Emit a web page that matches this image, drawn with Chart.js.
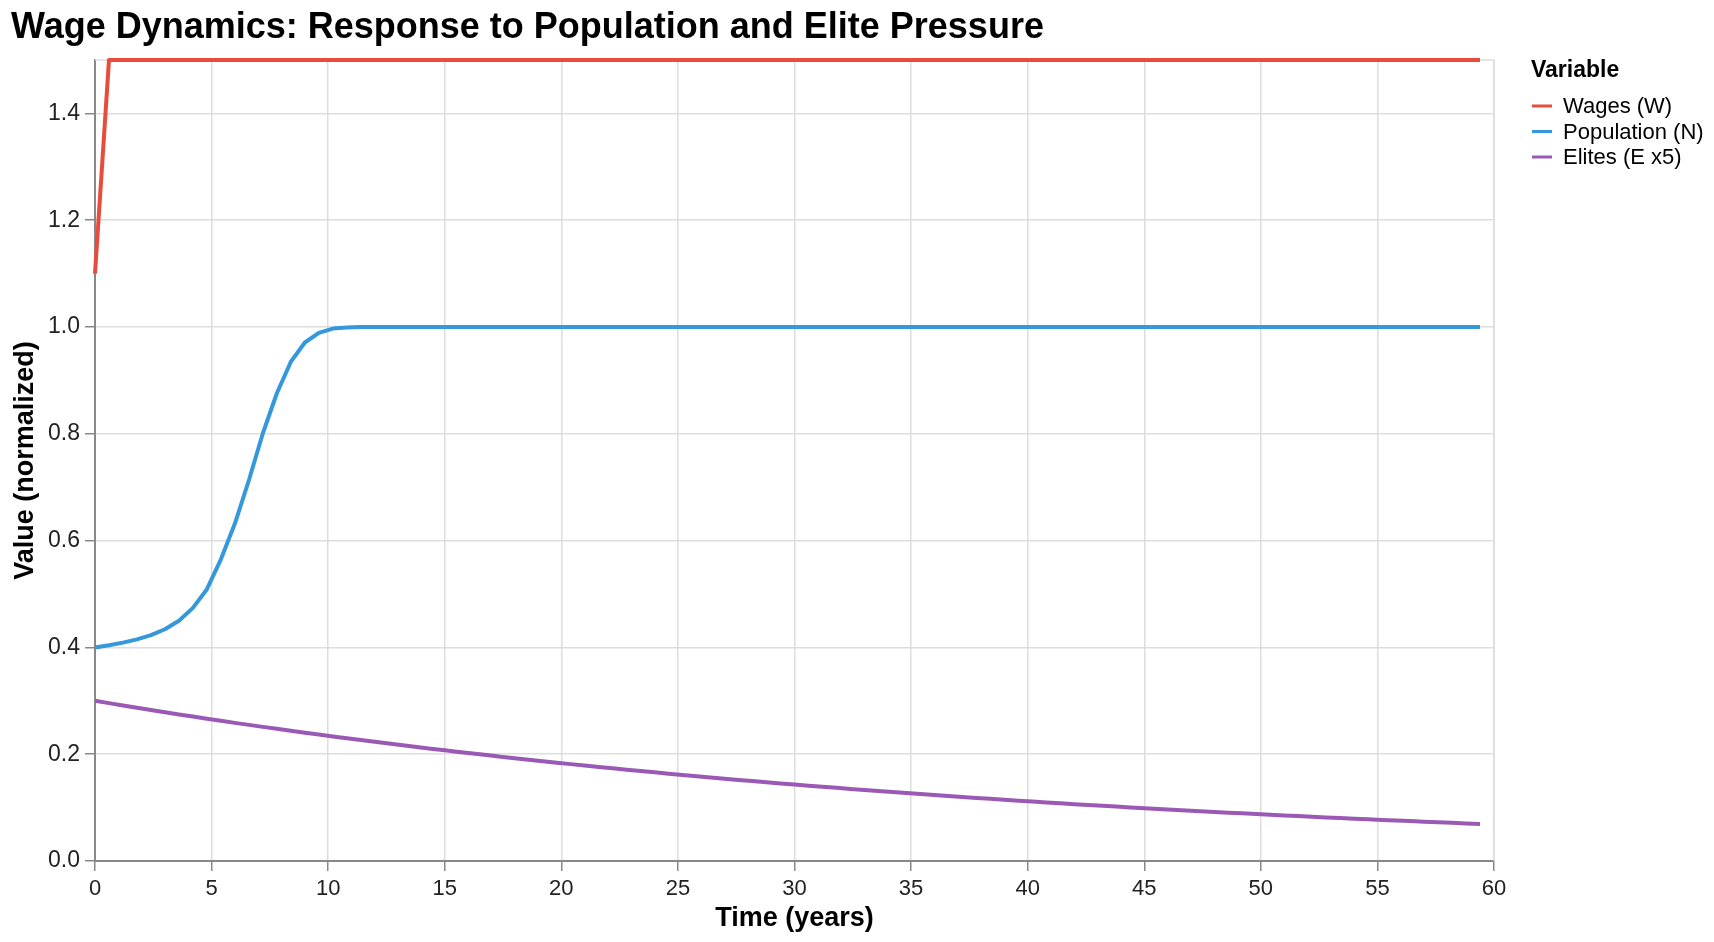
<!DOCTYPE html>
<html>
<head>
<meta charset="utf-8">
<title>Wage Dynamics</title>
<script src="https://cdn.jsdelivr.net/npm/chart.js@4.4.1/dist/chart.umd.min.js"></script>
<style>
  html, body { margin: 0; padding: 0; background: #fff; }
  #wrap { width: 1714px; height: 942px; position: relative; }
</style>
</head>
<body>
<div id="wrap"><canvas id="wageChart"></canvas></div>
<script>
// time steps (years)
const times = [0, 0.6, 1.2, 1.8, 2.4, 3, 3.6, 4.2, 4.8, 5.4, 6, 6.6, 7.2, 7.8, 8.4, 9, 9.6, 10.2, 10.8, 11.4,
  12, 12.6, 13.2, 13.8, 14.4, 15, 15.6, 16.2, 16.8, 17.4, 18, 18.6, 19.2, 19.8, 20.4, 21, 21.6, 22.2, 22.8, 23.4,
  24, 24.6, 25.2, 25.8, 26.4, 27, 27.6, 28.2, 28.8, 29.4, 30, 30.6, 31.2, 31.8, 32.4, 33, 33.6, 34.2, 34.8, 35.4,
  36, 36.6, 37.2, 37.8, 38.4, 39, 39.6, 40.2, 40.8, 41.4, 42, 42.6, 43.2, 43.8, 44.4, 45, 45.6, 46.2, 46.8, 47.4,
  48, 48.6, 49.2, 49.8, 50.4, 51, 51.6, 52.2, 52.8, 53.4, 54, 54.6, 55.2, 55.8, 56.4, 57, 57.6, 58.2, 58.8, 59.4];

const wages = [1.1, 1.5, 1.5, 1.5, 1.5, 1.5, 1.5, 1.5, 1.5, 1.5, 1.5, 1.5, 1.5, 1.5, 1.5, 1.5, 1.5, 1.5, 1.5, 1.5,
  1.5, 1.5, 1.5, 1.5, 1.5, 1.5, 1.5, 1.5, 1.5, 1.5, 1.5, 1.5, 1.5, 1.5, 1.5, 1.5, 1.5, 1.5, 1.5, 1.5,
  1.5, 1.5, 1.5, 1.5, 1.5, 1.5, 1.5, 1.5, 1.5, 1.5, 1.5, 1.5, 1.5, 1.5, 1.5, 1.5, 1.5, 1.5, 1.5, 1.5,
  1.5, 1.5, 1.5, 1.5, 1.5, 1.5, 1.5, 1.5, 1.5, 1.5, 1.5, 1.5, 1.5, 1.5, 1.5, 1.5, 1.5, 1.5, 1.5, 1.5,
  1.5, 1.5, 1.5, 1.5, 1.5, 1.5, 1.5, 1.5, 1.5, 1.5, 1.5, 1.5, 1.5, 1.5, 1.5, 1.5, 1.5, 1.5, 1.5, 1.5];

const population = [0.400, 0.404, 0.409, 0.415, 0.423, 0.434, 0.450, 0.474, 0.509, 0.565, 0.632, 0.713, 0.801, 0.876, 0.935, 0.971, 0.989, 0.997, 0.999, 1.0,
  1.0, 1.0, 1.0, 1.0, 1.0, 1.0, 1.0, 1.0, 1.0, 1.0, 1.0, 1.0, 1.0, 1.0, 1.0, 1.0, 1.0, 1.0, 1.0, 1.0,
  1.0, 1.0, 1.0, 1.0, 1.0, 1.0, 1.0, 1.0, 1.0, 1.0, 1.0, 1.0, 1.0, 1.0, 1.0, 1.0, 1.0, 1.0, 1.0, 1.0,
  1.0, 1.0, 1.0, 1.0, 1.0, 1.0, 1.0, 1.0, 1.0, 1.0, 1.0, 1.0, 1.0, 1.0, 1.0, 1.0, 1.0, 1.0, 1.0, 1.0,
  1.0, 1.0, 1.0, 1.0, 1.0, 1.0, 1.0, 1.0, 1.0, 1.0, 1.0, 1.0, 1.0, 1.0, 1.0, 1.0, 1.0, 1.0, 1.0, 1.0];

const elites = [0.3000, 0.2956, 0.2913, 0.2870, 0.2828, 0.2786, 0.2745, 0.2705, 0.2665, 0.2626,
  0.2587, 0.2549, 0.2512, 0.2475, 0.2439, 0.2403, 0.2368, 0.2333, 0.2299, 0.2265,
  0.2232, 0.2199, 0.2167, 0.2135, 0.2104, 0.2073, 0.2042, 0.2012, 0.1983, 0.1954,
  0.1925, 0.1897, 0.1869, 0.1841, 0.1814, 0.1788, 0.1761, 0.1736, 0.1710, 0.1685,
  0.1660, 0.1636, 0.1612, 0.1588, 0.1565, 0.1542, 0.1519, 0.1497, 0.1475, 0.1453,
  0.1432, 0.1411, 0.1390, 0.1370, 0.1350, 0.1330, 0.1310, 0.1291, 0.1272, 0.1253,
  0.1235, 0.1217, 0.1199, 0.1181, 0.1164, 0.1147, 0.1130, 0.1113, 0.1097, 0.1081,
  0.1065, 0.1049, 0.1034, 0.1019, 0.1004, 0.0989, 0.0975, 0.0960, 0.0946, 0.0932,
  0.0919, 0.0905, 0.0892, 0.0879, 0.0866, 0.0853, 0.0841, 0.0828, 0.0816, 0.0804,
  0.0792, 0.0781, 0.0769, 0.0758, 0.0747, 0.0736, 0.0725, 0.0714, 0.0704, 0.0693];

const seriesNames = ["Wages (W)", "Population (N)", "Elites (E x5)"];
const seriesColors = ["#e74c3c", "#3498db", "#9b59b6"];
const xTicks = [0, 5, 10, 15, 20, 25, 30, 35, 40, 45, 50, 55, 60];
const yTicks = [0, 0.2, 0.4, 0.6, 0.8, 1.0, 1.2, 1.4];

const FONT = "'Liberation Sans', Arial, Helvetica, sans-serif";

function toPoints(vals) {
    return vals.map((v, i) => ({ x: times[i], y: v }));
}

// title, axis titles, frame and legend drawn by hand
const decorPlugin = {
    id: "decor",
    beforeDatasetsDraw(chart) {
        const { ctx, chartArea } = chart;
        ctx.save();
        ctx.strokeStyle = "#dddddd";
        ctx.lineWidth = 1.5;
        ctx.beginPath();
        ctx.moveTo(chartArea.left, chartArea.top);
        ctx.lineTo(chartArea.right, chartArea.top);
        ctx.lineTo(chartArea.right, chartArea.bottom);
        ctx.stroke();
        ctx.restore();
    },
    afterDraw(chart) {
        const { ctx, chartArea } = chart;
        ctx.save();
        ctx.fillStyle = "#000";
        ctx.textBaseline = "alphabetic";

        // title
        ctx.font = "bold 36px " + FONT;
        ctx.textAlign = "left";
        ctx.fillText("Wage Dynamics: Response to Population and Elite Pressure", 11, 38);

        // x axis title
        ctx.font = "bold 27px " + FONT;
        ctx.textAlign = "center";
        ctx.fillText("Time (years)", (chartArea.left + chartArea.right) / 2, 926);

        // y axis title
        ctx.save();
        ctx.translate(33, (chartArea.top + chartArea.bottom) / 2);
        ctx.rotate(-Math.PI / 2);
        ctx.fillText("Value (normalized)", 0, 0);
        ctx.restore();

        // legend
        ctx.textAlign = "left";
        ctx.font = "bold 23px " + FONT;
        ctx.fillText("Variable", 1531, 77);
        ctx.font = "22px " + FONT;
        ctx.textBaseline = "middle";
        seriesNames.forEach((name, i) => {
            const y = 106 + i * 25.5;
            ctx.strokeStyle = seriesColors[i];
            ctx.lineWidth = 3;
            ctx.beginPath();
            ctx.moveTo(1532, y);
            ctx.lineTo(1552, y);
            ctx.stroke();
            ctx.fillStyle = "#000";
            ctx.fillText(name, 1563, y + 1);
        });
        ctx.restore();
    }
};

const ctx = document.getElementById("wageChart").getContext("2d");
new Chart(ctx, {
    type: "line",
    data: {
        datasets: [
            { label: seriesNames[0], data: toPoints(wages), borderColor: seriesColors[0] },
            { label: seriesNames[1], data: toPoints(population), borderColor: seriesColors[1] },
            { label: seriesNames[2], data: toPoints(elites), borderColor: seriesColors[2] }
        ]
    },
    options: {
        responsive: true,
        maintainAspectRatio: false,
        animation: false,
        layout: { padding: { top: 60, right: 220, bottom: 0, left: 0 } },
        elements: {
            point: { radius: 0 },
            line: { borderWidth: 4, tension: 0, fill: false, borderJoinStyle: "round" }
        },
        datasets: { line: { clip: false } },
        plugins: {
            legend: { display: false },
            title: { display: false },
            tooltip: { enabled: false }
        },
        scales: {
            x: {
                type: "linear",
                min: 0,
                max: 60,
                afterBuildTicks: s => { s.ticks = xTicks.map(v => ({ value: v })); },
                afterFit: s => { s.height = 81; },
                ticks: {
                    font: { family: FONT, size: 22 },
                    color: "#222",
                    padding: 5,
                    maxRotation: 0,
                    callback: v => String(v)
                },
                grid: { color: "#dddddd", lineWidth: 1.5, tickLength: 10, tickColor: "#888888" },
                border: { color: "#888888", width: 2 }
            },
            y: {
                type: "linear",
                min: 0,
                max: 1.5,
                afterBuildTicks: s => { s.ticks = yTicks.map(v => ({ value: v })); },
                afterFit: s => { s.width = 95; },
                ticks: {
                    font: { family: FONT, size: 23 },
                    color: "#222",
                    padding: 5,
                    callback: v => v.toFixed(1)
                },
                grid: { color: "#dddddd", lineWidth: 1.5, tickLength: 10, tickColor: "#888888" },
                border: { color: "#888888", width: 2 }
            }
        }
    },
    plugins: [decorPlugin]
});
</script>
</body>
</html>
